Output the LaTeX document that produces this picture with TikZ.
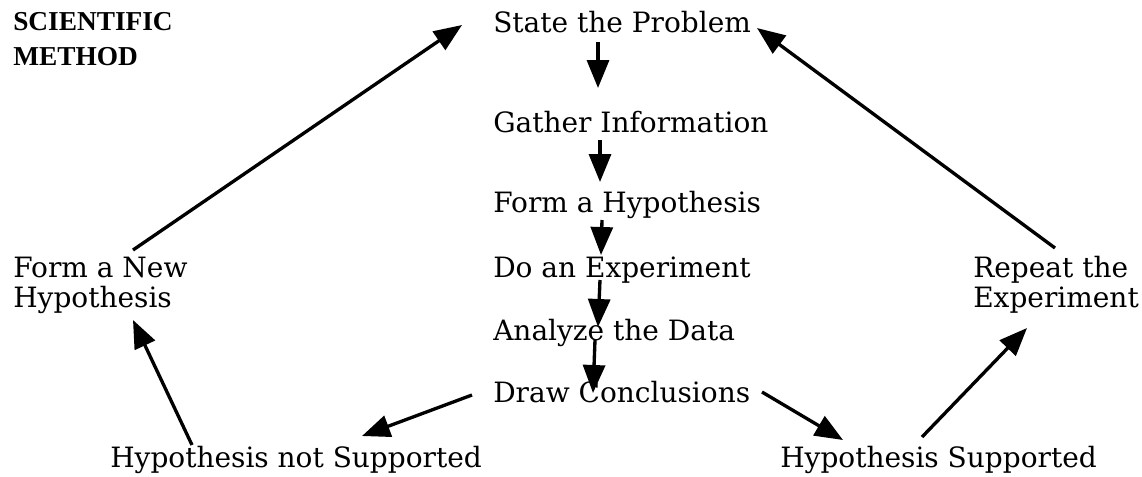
\documentclass[tikz,border=0pt]{standalone}
\usepackage{fontspec}
\setmainfont{DejaVu Serif}
\newfontfamily\titlefont{Liberation Serif}
\usepackage{tikz}
\usetikzlibrary{arrows.meta,calc}
\tikzset{
  steptext/.style={anchor=base west, inner sep=0pt, align=left,
                   font=\fontsize{21pt}{22.5pt}\selectfont},
  titletext/.style={anchor=base west, inner sep=0pt, align=left,
                   font=\titlefont\bfseries\fontsize{20.5pt}{26.25pt}\selectfont},
  flowarrow/.style={line width=2.5pt, -{Triangle[length=21pt,width=16.5pt]}}
}

\begin{document}
\begin{tikzpicture}[x=0.75pt, y=-0.75pt]
            \useasboundingbox (0,0) rectangle (1142,476);
            % Title (base = last line)
            \node[titletext] (title)   at ( 13, 65) {SCIENTIFIC\\METHOD};
            % Main column
            \node[steptext]  (state)   at (493, 32) {State the Problem};
            \node[steptext]  (gather)  at (493,132) {Gather Information};
            \node[steptext]  (form)    at (493,212) {Form a Hypothesis};
            \node[steptext]  (doexp)   at (493,277) {Do an Experiment};
            \node[steptext]  (analyze) at (493,340) {Analyze the Data};
            \node[steptext]  (draw)    at (493,402) {Draw Conclusions};
            % Outcomes
            \node[steptext]  (newhyp)  at ( 13,307) {Form a New\\Hypothesis};
            \node[steptext]  (repeat)  at (973,307) {Repeat the\\Experiment};
            \node[steptext]  (notsup)  at (110,467) {Hypothesis not Supported};
            \node[steptext]  (sup)     at (780,467) {Hypothesis Supported};
            % Down the column
            \draw[flowarrow] ($(state.base west)+(105,10)$)   -- ($(gather.base west)+(105,-44)$);
            \draw[flowarrow] ($(gather.base west)+(107,8)$)   -- ($(form.base west)+(107,-30)$);
            \draw[flowarrow] ($(form.base west)+(109,8)$)     -- ($(doexp.base west)+(108,-22)$);
            \draw[flowarrow] ($(doexp.base west)+(107,3)$)    -- ($(analyze.base west)+(105,-13)$);
            \draw[flowarrow] ($(analyze.base west)+(102,0)$)  -- ($(draw.base west)+(100,-9)$);
            % Not supported: back to a new hypothesis
            \draw[flowarrow] ($(draw.base west)+(-21,-7)$)    -- ($(notsup.base west)+(252,-31)$);
            \draw[flowarrow] ($(notsup.base west)+(82,-22)$)  -- ($(newhyp.base west)+(120,13)$);
            \draw[flowarrow] ($(newhyp.base west)+(120,-57)$) -- ($(state.base west)+(-31,-7)$);
            % Supported: repeat the experiment
            \draw[flowarrow] ($(draw.base west)+(269,-10)$)   -- ($(sup.base west)+(63,-27)$);
            \draw[flowarrow] ($(sup.base west)+(142,-30)$)    -- ($(repeat.base west)+(54,21)$);
            \draw[flowarrow] ($(repeat.base west)+(82,-59)$)  -- ($(state.base west)+(264,-4)$);
        \end{tikzpicture}
\end{document}
